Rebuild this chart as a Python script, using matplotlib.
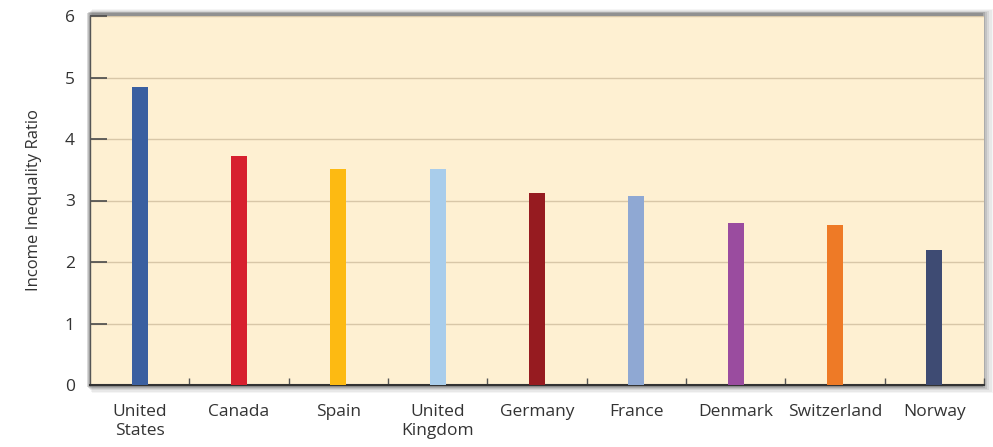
import matplotlib
matplotlib.use("Agg")
import matplotlib.pyplot as plt
from matplotlib.patches import Rectangle
import numpy as np

countries = ["United\nStates", "Canada", "Spain", "United\nKingdom", "Germany",
             "France", "Denmark", "Switzerland", "Norway"]
values = [4.85, 3.72, 3.52, 3.51, 3.12, 3.08, 2.63, 2.60, 2.20]
colors = ["#3A5FA0", "#D7202E", "#FDBA12", "#A9CDEB", "#961B20",
          "#8FA8D3", "#9A4C9F", "#EE7A26", "#3E4B73"]
yticks = [0, 1, 2, 3, 4, 5, 6]

plt.rcParams['font.family'] = ['Open Sans', 'DejaVu Sans']

W, H = 993, 447
fig = plt.figure(figsize=(W / 100, H / 100), dpi=100)
fig.patch.set_facecolor("white")

left, right, top, bottom = 90, 984, 16, 385
ax = fig.add_axes([left / W, 1 - bottom / H, (right - left) / W, (bottom - top) / H])

# soft drop shadow
for i, a in enumerate([0.04, 0.05, 0.07, 0.09, 0.12, 0.15]):
    off = 8 - i * 1.3
    r = Rectangle(((left - 4 + (6 - i)) / W, (H - bottom - off) / H),
                  (right - left + off) / W, (bottom - top + off + off * 0.6 + 2) / H,
                  transform=fig.transFigure, facecolor="black", alpha=a,
                  edgecolor="none", zorder=-10)
    fig.patches.append(r)

ax.set_facecolor("#FEF0D2")
ax.set_zorder(1)

x = np.arange(len(countries))
ax.bar(x, values, width=0.16, color=colors, zorder=3)

ax.set_xlim(-0.5, len(countries) - 0.5)
ax.set_ylim(0, 6)
ax.set_yticks(yticks)
ax.set_yticklabels([str(t) for t in yticks], fontsize=12.5, color="#333333")
ax.yaxis.grid(True, color="#D8C7A8", linewidth=1.0, zorder=0)
ax.tick_params(axis="y", direction="in", length=12, width=1.2, color="#4a4a4a", pad=11)

ax.set_xticks(x)
ax.set_xticklabels(countries, fontsize=12.5, color="#333333", linespacing=1.25)
ax.tick_params(axis="x", length=0, pad=14)
ax.set_xticks(np.arange(0.5, len(countries) - 0.5 + 0.01, 1.0), minor=True)
ax.tick_params(axis="x", which="minor", direction="in", length=5, width=1, color="#555555")

for s in ["top", "right"]:
    ax.spines[s].set_visible(False)
ax.spines["left"].set_color("#555555")
ax.spines["bottom"].set_color("#333333")
ax.spines["bottom"].set_linewidth(1.5)
ax.spines["left"].set_linewidth(1.0)

ax.set_ylabel("Income Inequality Ratio", fontsize=12, color="#333333", labelpad=16)

fig.savefig("out.png", dpi=100)
